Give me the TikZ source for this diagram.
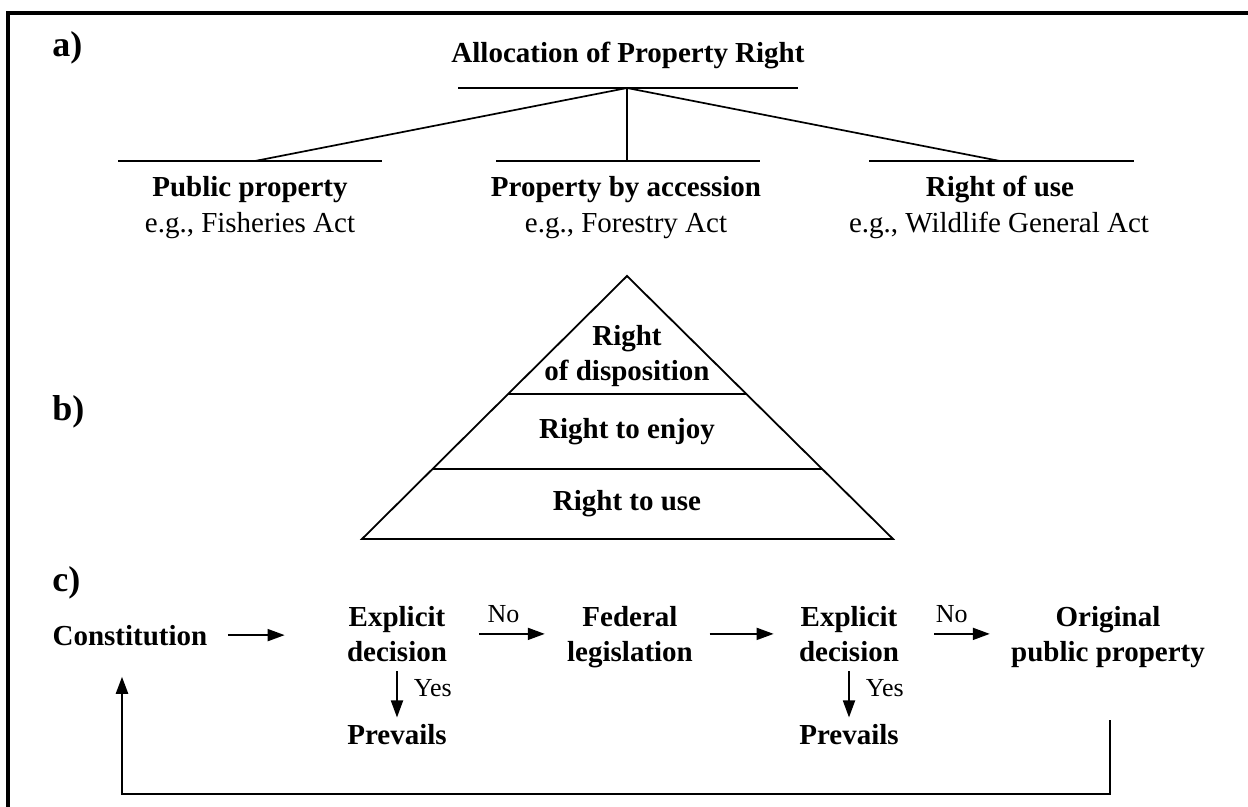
\documentclass[tikz,border=0pt]{standalone}
\usepackage{fontspec}
\setmainfont{Liberation Serif}
\usetikzlibrary{arrows.meta,calc}
\begin{document}
\begin{tikzpicture}[x=0.5pt,y=-0.5pt,
  main/.style={font=\fontsize{14.5}{17.5}\selectfont\bfseries, inner sep=0pt, align=center},
  note/.style={font=\fontsize{14.5}{17.5}\selectfont, inner sep=0pt},
  lbl/.style={font=\fontsize{13}{15}\selectfont, inner sep=0pt},
  part/.style={font=\fontsize{18}{21}\selectfont\bfseries, inner sep=0pt, anchor=base west},
  frame/.style={line width=1.6pt},
  bar/.style={line width=1.1pt},
  spoke/.style={line width=0.85pt},
  tier/.style={line width=0.9pt},
  arr/.style={line width=0.9pt, -{Triangle[length=8.5pt,width=6pt]}},
  loopline/.style={line width=1.1pt, -{Triangle[length=8.5pt,width=6pt]}},
]
\useasboundingbox (0,0) rectangle (1248,807);
% outer frame (open to the right and bottom)
\draw[frame] (8,830) -- (8,13) -- (1270,13);

% panel letters
\node[part] (la) at (52,57) {a)};
\node[part] (lb) at (52,421) {b)};
\node[part] (lc) at (52,591) {c)};

% ---------- a) allocation tree ----------
\node[main, anchor=base] (alloc) at (628,63) {Allocation of Property Right};
\coordinate (apex) at (627,88);
\coordinate (topL) at (458,88);
\coordinate (topR) at (798,88);
\coordinate (lbL) at (118,161);
\coordinate (lbR) at (382,161);
\coordinate (lbJ) at (255,161);
\coordinate (mbL) at (496,161);
\coordinate (mbR) at (760,161);
\coordinate (mbJ) at (627,161);
\coordinate (rbL) at (869,161);
\coordinate (rbR) at (1134,161);
\coordinate (rbJ) at (1000,161);
\draw[bar] (topL) -- (topR);
\draw[bar] (lbL) -- (lbR);
\draw[bar] (mbL) -- (mbR);
\draw[bar] (rbL) -- (rbR);
\draw[spoke] (apex) -- (lbJ);
\draw[spoke] (apex) -- (mbJ);
\draw[spoke] (apex) -- (rbJ);

\node[main, anchor=base] (pubp) at (250,197) {Public property};
\node[note, anchor=base] (pubx) at (250,233) {e.g., Fisheries Act};
\node[main, anchor=base] (acc) at (626,197) {Property by accession};
\node[note, anchor=base] (accx) at (626,233) {e.g., Forestry Act};
\node[main, anchor=base] (use) at (1000,197) {Right of use};
\node[note, anchor=base] (usex) at (999,233) {e.g., Wildlife General Act};

% ---------- b) pyramid of rights ----------
\coordinate (pT) at (627,276);
\coordinate (pL) at (362,539);
\coordinate (pR) at (893,539);
\draw[tier, line join=miter] (pT) -- (pL) -- (pR) -- cycle;
\draw[tier] ($(pT)!0.4487!(pL)$) -- ($(pT)!0.4487!(pR)$);
\draw[tier] ($(pT)!0.7338!(pL)$) -- ($(pT)!0.7338!(pR)$);
\node[main, anchor=base] (disp1) at (627,346) {Right};
\node[main, anchor=base] (disp2) at (627,381) {of disposition};
\node[main, anchor=base] (enjoy) at (627,439) {Right to enjoy};
\node[main, anchor=base] (ruse) at (627,510) {Right to use};

% ---------- c) decision chain ----------
\node[main, anchor=base] (const) at (130,645) {Constitution};
\node[main, anchor=south] (dec1) at (397,662) {Explicit\\decision};
\node[main, anchor=south] (fed) at (630,668) {Federal\\legislation};
\node[main, anchor=south] (dec2) at (849,662) {Explicit\\decision};
\node[main, anchor=south] (orig) at (1108,668) {Original\\public property};
\node[main, anchor=base] (prev1) at (397,744) {Prevails};
\node[main, anchor=base] (prev2) at (849,744) {Prevails};

\draw[arr, shorten <=10pt, shorten >=31pt] (const.east) -- (const.east -| dec1.west);
\draw[arr, shorten <=16pt, shorten >=11pt] (dec1.east) -- node[lbl, above=5pt, pos=0.47] (no1) {No} (dec1.east -| fed.west);
\draw[arr, shorten <=8.25pt, shorten >=12.5pt] (fed.east |- dec2.east) -- (dec2.west);
\draw[arr, shorten <=17.5pt, shorten >=10.5pt] (dec2.east) -- node[lbl, above=5pt, pos=0.47] (no2) {No} (dec2.east -| orig.west);
\draw[arr, shorten <=4.5pt, shorten >=3pt] (dec1.south) -- node[lbl, right=8pt, pos=0.42] (yes1) {Yes} (prev1.north);
\draw[arr, shorten <=4.5pt, shorten >=3pt] (dec2.south) -- node[lbl, right=8pt, pos=0.42] (yes2) {Yes} (prev2.north);

% feedback loop back to the constitution
\coordinate (fbstart) at (1110,720);
\coordinate (fbturn) at (1110,794);
\draw[loopline, shorten >=15.5pt] (fbstart) -- (fbturn) -| ([xshift=-4pt]const.south);
\end{tikzpicture}
\end{document}
